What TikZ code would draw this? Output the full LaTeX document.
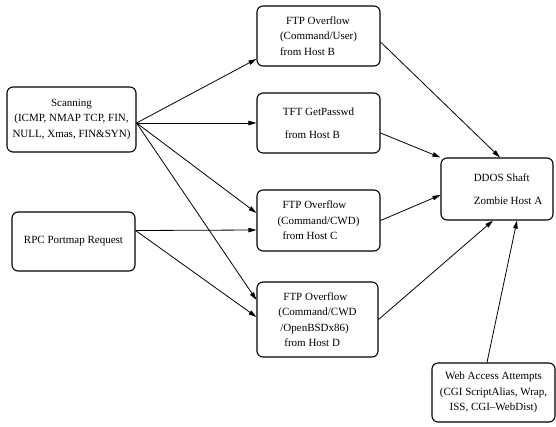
\documentclass[tikz,border=0pt]{standalone}
\usepackage{fontspec}
\setmainfont{Liberation Serif}
\usetikzlibrary{arrows.meta}
\begin{document}
\begin{tikzpicture}[x=1pt,y=-1pt,
  box/.style={draw, line width=1.1pt, rounded corners=6pt, inner sep=0pt,
    font=\fontsize{11}{15.5}\selectfont},
  flow/.style={line width=0.8pt, -{Triangle[length=8pt,width=4.5pt]}}]
\fill[white] (0,0) rectangle (556,426);
\useasboundingbox (0,0) rectangle (556,426);

% sources on the left
\node[box, align=center, minimum width=129pt, minimum height=65pt] (scan) at (71.5,119.5)
  {Scanning\\(ICMP, NMAP TCP, FIN,\\NULL, Xmas, FIN\&SYN)};
\node[box, align=center, minimum width=123pt, minimum height=59pt] (rpc) at (73.5,241.5)
  {RPC Portmap Request};

% intermediate attacks
\node[box, align=left, minimum width=123pt, minimum height=60pt] (ftp1) at (318.5,36)
  {\hspace*{6pt}FTP Overflow\\(Command/User)\\from Host B};
\node[box, align=left, minimum width=123pt, minimum height=60pt] (tft) at (318.5,123)
  {TFT GetPasswd\\[8pt]\hspace*{2pt}from Host B};
\node[box, align=left, minimum width=123pt, minimum height=61pt] (cwd) at (318.5,220.5)
  {\hspace*{5pt}FTP Overflow\\(Command/CWD)\\\hspace*{5pt}from Host C};
\node[box, align=left, minimum width=121pt, minimum height=75pt] (ftpd) at (317.5,319.5)
  {\hspace*{5pt}FTP Overflow\\(Command/CWD\\\hspace*{2pt}/OpenBSDx86)\\\hspace*{6pt}from Host D};

% target and web attempts
\node[box, align=left, minimum width=112pt, minimum height=62pt] (ddos) at (497,189)
  {\hspace*{22pt}DDOS Shaft\\[7.5pt]\hspace*{22pt}Zombie Host A};
\node[box, align=center, minimum width=123pt, minimum height=59pt] (web) at (493.5,392.5)
  {Web Access Attempts\\(CGI ScriptAlias, Wrap,\\ISS, CGI--WebDist)};

% connectors
\draw[flow] ([yshift=-3.5pt]scan.east) -- ([yshift=-23pt]ftp1.west);
\draw[flow] ([yshift=-3.5pt]scan.east) -- (tft.west);
\draw[flow] ([yshift=-3.5pt]scan.east) -- ([yshift=7.5pt]cwd.west);
\draw[flow] ([yshift=-3.5pt]scan.east) -- ([yshift=19.5pt]ftpd.west);
\draw[flow] ([yshift=11pt]rpc.east) -- ([yshift=-9.5pt]cwd.west);
\draw[flow] ([yshift=11pt]rpc.east) -- ([yshift=2.5pt]ftpd.west);
\draw[flow] ([yshift=-6pt]ftp1.east) -- ([xshift=3pt]ddos.north);
\draw[flow] ([yshift=-10pt]tft.east) -- (ddos.north west);
\draw[flow] (cwd.east) -- ([yshift=-6pt]ddos.west);
\draw[flow] (ftpd.east) -- ([xshift=-4pt]ddos.south);
\draw[flow] ([xshift=-6.5pt]web.north) -- ([xshift=20pt]ddos.south);
\end{tikzpicture}
\end{document}
